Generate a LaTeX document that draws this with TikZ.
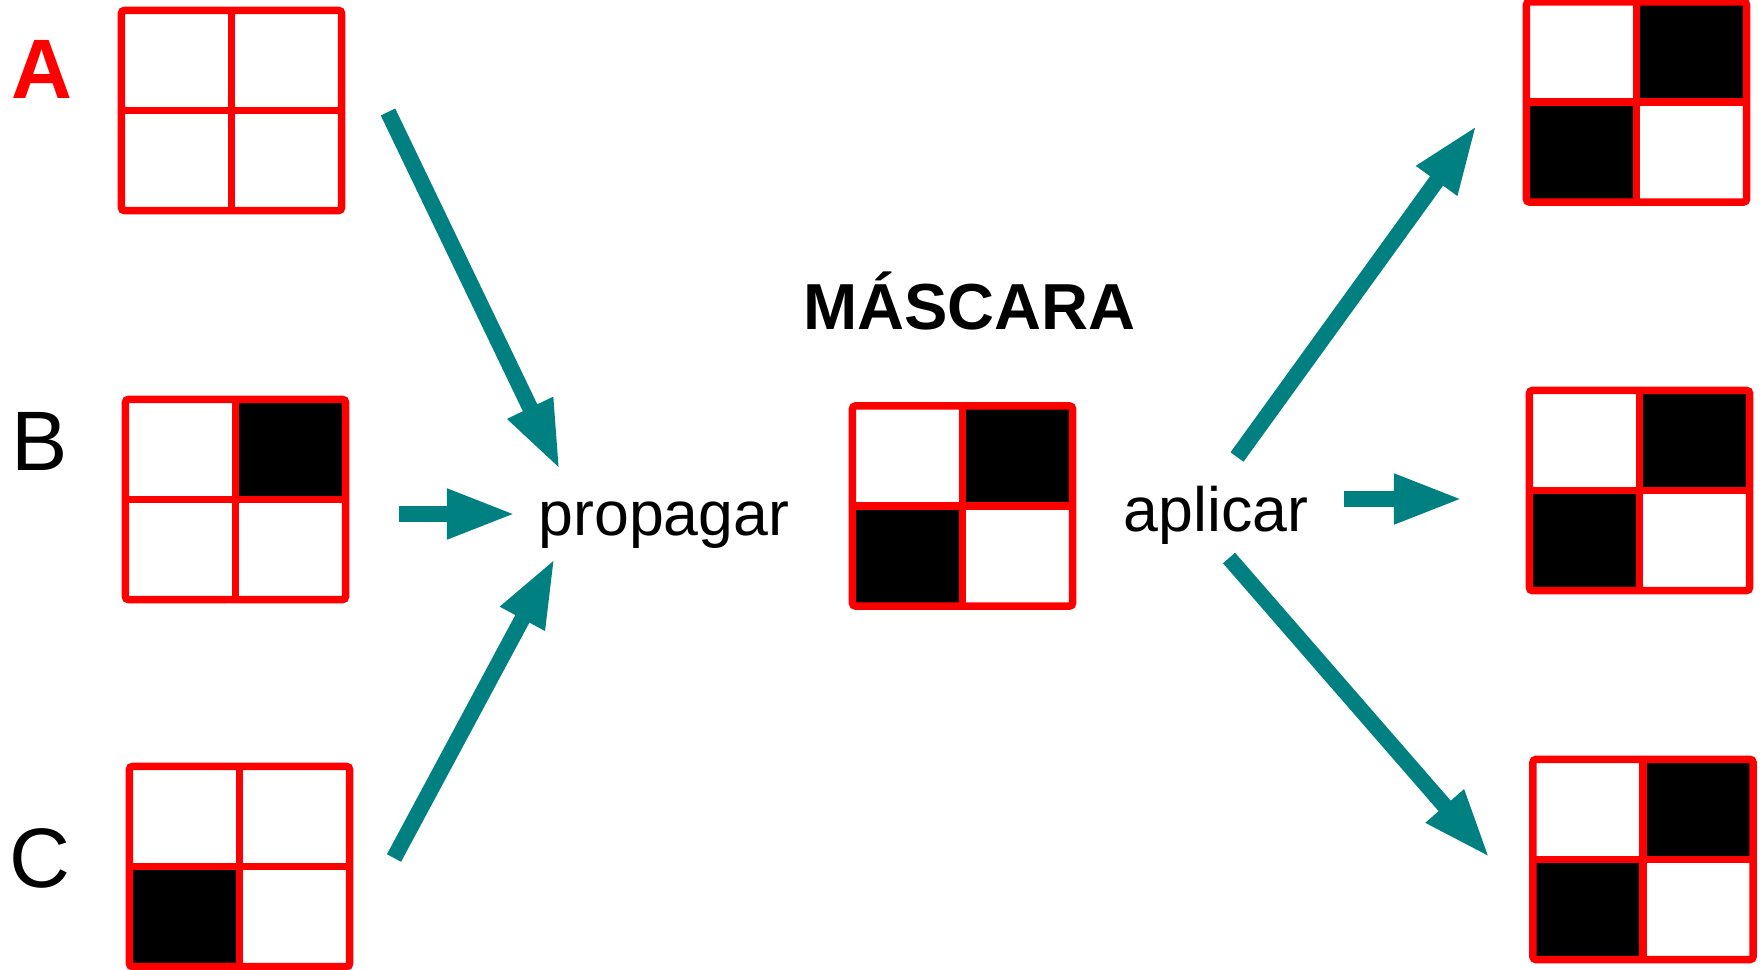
\documentclass[tikz,border=0pt]{standalone}
\usepackage{fontspec}
\setmainfont{Liberation Sans}
\usetikzlibrary{arrows.meta}

\begin{document}
\begin{tikzpicture}[
    x=0.01cm, y=-0.01cm,
    cellgrid/.style={rectangle, minimum width=2.2cm, minimum height=2cm, inner sep=0pt, outer sep=0pt},
    gridline/.style={draw=red, line width=0.075cm},
    flow/.style={draw=teal, line width=0.16cm, -{Triangle[length=0.69cm, width=0.46cm]}},
    letter/.style={anchor=base, inner sep=0pt, font=\fontsize{24}{28}\selectfont},
    action/.style={anchor=base, inner sep=0pt, font=\fontsize{17.8}{20}\selectfont}
  ]
  \useasboundingbox (0,0) rectangle (1764,970);

  % Grids
  \node[cellgrid] (ga) at (231.5,110.5) {};
  \node[cellgrid] (gb) at (235.5,499.5) {};
  \node[cellgrid] (gc) at (239.5,866.5) {};
  \node[cellgrid] (mask) at (962.5,506) {};
  \node[cellgrid] (r1) at (1636.5,102) {};
  \node[cellgrid] (r2) at (1639.5,490.5) {};
  \node[cellgrid] (r3) at (1643,859.5) {};

  % Black cells
  \foreach \g/\c in {gb/north east, gc/south west, mask/north east, mask/south west,
                     r1/north east, r1/south west, r2/north east, r2/south west,
                     r3/north east, r3/south west}
    \fill[black] (\g.center) rectangle (\g.\c);

  \foreach \g in {ga, gb, gc, mask, r1, r2, r3} {
    \draw[gridline, rounded corners=0.03cm] (\g.north west) rectangle (\g.south east);
    \draw[gridline] (\g.north) -- (\g.south) (\g.west) -- (\g.east);
  }

  % Labels
  \node[letter, text=red, font=\fontsize{24}{28}\selectfont\bfseries] (la) at (41.5,99) {A};
  \node[letter] (lb) at (39.5,470) {B};
  \node[letter] (lc) at (39.5,887) {C};
  \node[anchor=base, inner sep=0pt, font=\fontsize{18.5}{22}\selectfont\bfseries] (title) at (969.5,329) {MÁSCARA};
  \node[action] (prop) at (664,535) {propagar};
  \node[action] (apl) at (1216,531) {aplicar};

  % Arrow ends
  \coordinate (fromA) at (388,112);
  \coordinate (toA) at (560,470);
  \coordinate (fromB) at (399,514);
  \coordinate (toB) at (516,514);
  \coordinate (fromC) at (394,858);
  \coordinate (toC) at (555,558);
  \coordinate (outTop) at (1237,457);
  \coordinate (toR1) at (1477,125);
  \coordinate (outMid) at (1344,499);
  \coordinate (toR2) at (1463,499);
  \coordinate (outLow) at (1229,558);
  \coordinate (toR3) at (1490,858);

  % Connections
  \draw[flow] (fromA) -- (toA);
  \draw[flow] (fromB) -- (toB);
  \draw[flow] (fromC) -- (toC);
  \draw[flow] (outTop) -- (toR1);
  \draw[flow] (outMid) -- (toR2);
  \draw[flow] (outLow) -- (toR3);
\end{tikzpicture}
\end{document}
